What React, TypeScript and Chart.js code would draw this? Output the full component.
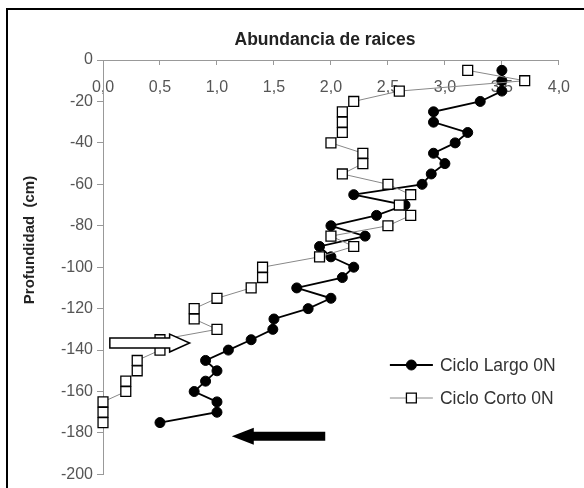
import React, { useEffect, useRef } from 'react';
import { Chart, registerables } from 'chart.js';

Chart.register(...registerables);

// ---- Data ----
const titleText = 'Abundancia de raices';
const yAxisTitle = 'Profundidad  (cm)';
const seriesNames = ['Ciclo Largo 0N', 'Ciclo Corto 0N'];

// Ciclo Largo 0N: depth (cm) and root abundance
const largoDepth = [-5, -10, -15, -20, -25, -30, -35, -40, -45, -50, -55, -60, -65, -70, -75, -80, -85, -90, -95, -100, -105, -110, -115, -120, -125, -130, -135, -140, -145, -150, -155, -160, -165, -170, -175];
const largoValue = [3.5, 3.5, 3.5, 3.31, 2.9, 2.9, 3.2, 3.09, 2.9, 3.0, 2.88, 2.8, 2.2, 2.65, 2.4, 2.0, 2.3, 1.9, 2.0, 2.2, 2.1, 1.7, 2.0, 1.8, 1.5, 1.49, 1.3, 1.1, 0.9, 1.0, 0.9, 0.8, 1.0, 1.0, 0.5];

// Ciclo Corto 0N
const cortoDepth = [-5, -10, -15, -20, -25, -30, -35, -40, -45, -50, -55, -60, -65, -70, -75, -80, -85, -90, -95, -100, -105, -110, -115, -120, -125, -130, -135, -140, -145, -150, -155, -160, -165, -170, -175];
const cortoValue = [3.2, 3.7, 2.6, 2.2, 2.1, 2.1, 2.1, 2.0, 2.28, 2.28, 2.1, 2.5, 2.7, 2.6, 2.7, 2.5, 2.0, 2.2, 1.9, 1.4, 1.4, 1.3, 1.0, 0.8, 0.8, 1.0, 0.5, 0.5, 0.3, 0.3, 0.2, 0.2, 0.0, 0.0, 0.0];

// Axis ranges / ticks
const xMin = 0;
const xMax = 4;
const xStep = 0.5;
const yMin = -200;
const yMax = 0;
const yStep = 20;

// Annotation arrows, in data units: [x tail, x tip, depth]
const hollowArrow = [0.06, 0.76, -136.6];
const blackArrow = [1.95, 1.13, -181.6];

const FONT = 'Arial, "Liberation Sans", sans-serif';

function drawArrow(ctx: CanvasRenderingContext2D, xTail: number, xTip: number, yc: number, bodyHalf: number, headHalf: number, headLen: number) {
  const dir = xTip > xTail ? 1 : -1;
  const xb = xTip - dir * headLen;
  ctx.beginPath();
  ctx.moveTo(xTail, yc - bodyHalf);
  ctx.lineTo(xb, yc - bodyHalf);
  ctx.lineTo(xb, yc - headHalf);
  ctx.lineTo(xTip, yc);
  ctx.lineTo(xb, yc + headHalf);
  ctx.lineTo(xb, yc + bodyHalf);
  ctx.lineTo(xTail, yc + bodyHalf);
  ctx.closePath();
}

const overlayPlugin = {
  id: 'overlay',
  afterDraw(chart: any) {
    const ctx: CanvasRenderingContext2D = chart.ctx;
    const area = chart.chartArea;
    const xs = chart.scales.x;
    const ys = chart.scales.y;
    ctx.save();

    // outer frame (left and top edges visible)
    ctx.strokeStyle = '#000';
    ctx.lineWidth = 2;
    ctx.beginPath();
    ctx.moveTo(7, chart.height + 2);
    ctx.lineTo(7, 9);
    ctx.lineTo(chart.width + 2, 9);
    ctx.stroke();

    // title
    ctx.fillStyle = '#222';
    ctx.font = `bold 17.5px ${FONT}`;
    ctx.textAlign = 'center';
    ctx.textBaseline = 'middle';
    ctx.fillText(titleText, (area.left + area.right) / 2 - 6, 40);

    // y axis title
    ctx.save();
    ctx.translate(30, 240);
    ctx.rotate(-Math.PI / 2);
    ctx.font = `bold 15px ${FONT}`;
    ctx.fillText(yAxisTitle, 0, 0);
    ctx.restore();

    // legend
    const ds = chart.data.datasets;
    const lx0 = area.right - 169;
    const lx1 = area.right - 126;
    const lmx = (lx0 + lx1) / 2;
    const rows = [365, 398];
    ctx.font = `17.5px ${FONT}`;
    ctx.textAlign = 'left';
    ds.forEach((d: any, i: number) => {
      const yy = rows[i];
      ctx.strokeStyle = d.borderColor;
      ctx.lineWidth = d.borderWidth;
      ctx.beginPath();
      ctx.moveTo(lx0, yy);
      ctx.lineTo(lx1, yy);
      ctx.stroke();
      ctx.fillStyle = d.pointBackgroundColor;
      ctx.strokeStyle = d.pointBorderColor;
      ctx.lineWidth = d.pointBorderWidth;
      if (d.pointStyle === 'rect') {
        const s = Math.SQRT1_2 * d.pointRadius;
        ctx.beginPath();
        ctx.rect(lmx - s, yy - s, 2 * s, 2 * s);
        ctx.fill();
        ctx.stroke();
      } else {
        ctx.beginPath();
        ctx.arc(lmx, yy, d.pointRadius, 0, Math.PI * 2);
        ctx.fill();
        ctx.stroke();
      }
      ctx.fillStyle = '#333';
      ctx.fillText(d.label, lx1 + 7, yy + 1);
    });

    // arrows
    const hy = ys.getPixelForValue(hollowArrow[2]);
    drawArrow(ctx, xs.getPixelForValue(hollowArrow[0]), xs.getPixelForValue(hollowArrow[1]), hy, 5, 9, 20);
    ctx.fillStyle = '#fff';
    ctx.fill();
    ctx.strokeStyle = '#000';
    ctx.lineWidth = 1.5;
    ctx.stroke();

    const by = ys.getPixelForValue(blackArrow[2]);
    drawArrow(ctx, xs.getPixelForValue(blackArrow[0]), xs.getPixelForValue(blackArrow[1]), by, 4.5, 8.5, 22);
    ctx.fillStyle = '#000';
    ctx.fill();

    ctx.restore();
  },
};

export default function App() {
  const canvasRef = useRef<HTMLCanvasElement | null>(null);

  useEffect(() => {
    const canvas = canvasRef.current;
    if (!canvas) return;
    const largo = largoDepth.map((d, i) => ({ x: largoValue[i], y: d }));
    const corto = cortoDepth.map((d, i) => ({ x: cortoValue[i], y: d }));
    const chart = new Chart(canvas, {
      type: 'scatter',
      data: {
        datasets: [
          {
            label: seriesNames[0],
            data: largo,
            showLine: true,
            borderColor: '#000',
            borderWidth: 1.8,
            pointStyle: 'circle',
            pointRadius: 5,
            pointBackgroundColor: '#000',
            pointBorderColor: '#000',
            pointBorderWidth: 1,
            clip: false,
            order: 1,
          },
          {
            label: seriesNames[1],
            data: corto,
            showLine: true,
            borderColor: '#888',
            borderWidth: 1,
            pointStyle: 'rect',
            pointRadius: 7,
            pointBackgroundColor: '#fff',
            pointBorderColor: '#000',
            pointBorderWidth: 1.3,
            clip: false,
            order: 0,
          },
        ] as any,
      },
      plugins: [overlayPlugin],
      options: {
        animation: false,
        responsive: false,
        devicePixelRatio: 1,
        layout: { padding: { top: 60, left: 0, right: 25, bottom: 10 } },
        plugins: {
          legend: { display: false },
          title: { display: false },
          tooltip: { enabled: false },
        },
        scales: {
          x: {
            type: 'linear',
            position: { y: 0 } as any,
            min: xMin,
            max: xMax,
            ticks: {
              stepSize: xStep,
              padding: 14,
              color: '#555',
              font: { family: FONT, size: 16 },
              callback: (v: any) => Number(v).toFixed(1).replace('.', ','),
            },
            grid: { drawOnChartArea: false, drawTicks: true, tickLength: 4, color: '#999' },
            border: { display: true, color: '#999', width: 1 },
          },
          y: {
            type: 'linear',
            position: 'left',
            min: yMin,
            max: yMax,
            ticks: {
              stepSize: yStep,
              padding: 4,
              color: '#555',
              font: { family: FONT, size: 16 },
            },
            grid: { drawOnChartArea: false, drawTicks: true, tickLength: 6, color: '#999' },
            border: { display: true, color: '#999', width: 1 },
            afterFit: (s: any) => {
              s.width = 103;
            },
          },
        },
      } as any,
    });
    return () => chart.destroy();
  }, []);

  return (
    <div style={{ position: 'absolute', left: 0, top: 0, width: 584, height: 488, background: '#fff' }}>
      <canvas ref={canvasRef} width={584} height={488} style={{ display: 'block' }} />
    </div>
  );
}
